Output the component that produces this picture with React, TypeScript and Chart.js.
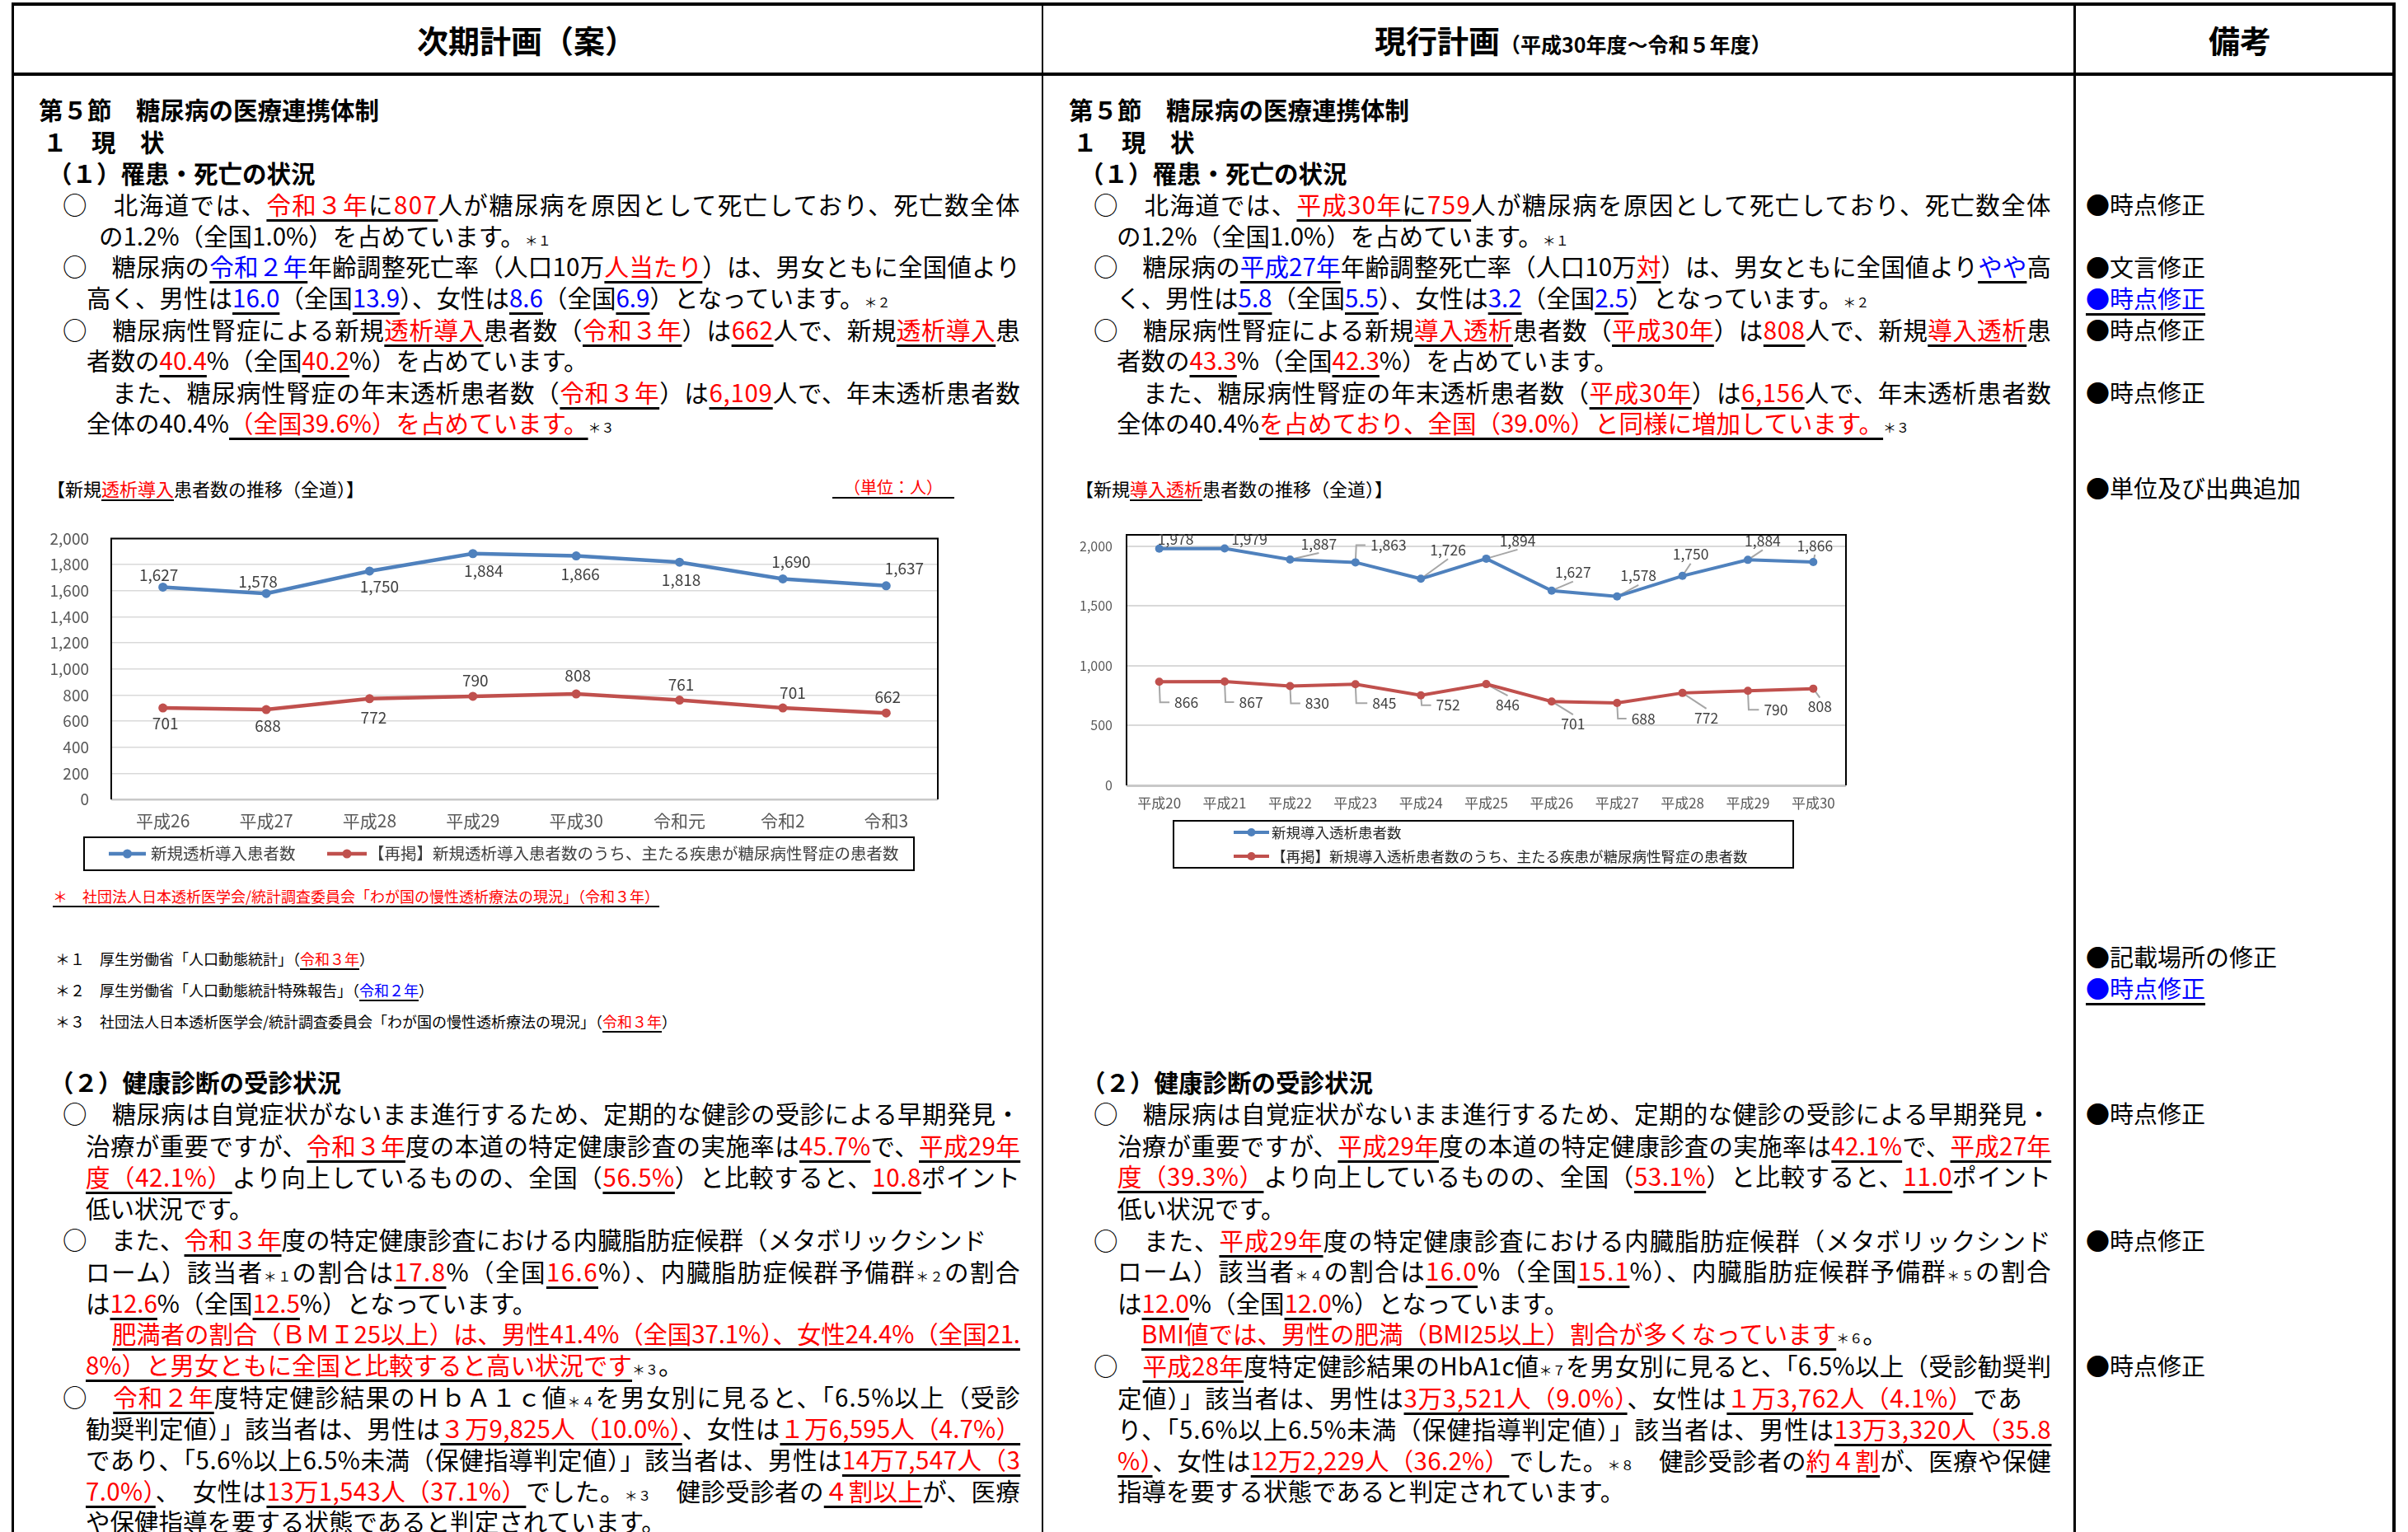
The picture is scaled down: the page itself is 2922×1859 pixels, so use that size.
import React, { useEffect, useLayoutEffect, useRef } from 'react';
import { Chart, registerables } from 'chart.js';

Chart.register(...registerables);

// ---------------- chart data ----------------
// 次期計画（案）chart
const categoriesNext = ['平成26', '平成27', '平成28', '平成29', '平成30', '令和元', '令和2', '令和3'];
const newDialysisNext = [1627, 1578, 1750, 1884, 1866, 1818, 1690, 1637];
const nephropathyNext = [701, 688, 772, 790, 808, 761, 701, 662];
const seriesNameNextA = '新規透析導入患者数';
const seriesNameNextB = '【再掲】新規透析導入患者数のうち、主たる疾患が糖尿病性腎症の患者数';
const yTicksNext = [0, 200, 400, 600, 800, 1000, 1200, 1400, 1600, 1800, 2000];

// 現行計画 chart
const categoriesCur = ['平成20', '平成21', '平成22', '平成23', '平成24', '平成25', '平成26', '平成27', '平成28', '平成29', '平成30'];
const newDialysisCur = [1978, 1979, 1887, 1863, 1726, 1894, 1627, 1578, 1750, 1884, 1866];
const nephropathyCur = [866, 867, 830, 845, 752, 846, 701, 688, 772, 790, 808];
const seriesNameCurA = '新規導入透析患者数';
const seriesNameCurB = '【再掲】新規導入透析患者数のうち、主たる疾患が糖尿病性腎症の患者数';
const yTicksCur = [0, 500, 1000, 1500, 2000];

// ---------------- label placement (style) ----------------
const labelOffsetsNext = [
  [[-5, -15], [-10, -14], [12, 19], [13, 21], [5, 22], [2, 22], [10, -21], [22, -21]],
  [[3, 19], [2, 20], [5, 23], [3, -19], [2, -22], [2, -19], [12, -18], [2, -19]],
];
const labelOffsetsCur = [
  [[20, -11], [30, -11], [35, -19], [40, -21], [33, -35], [38, -22], [26, -22], [26, -25], [10, -26], [18, -23], [2, -20]],
  [[33, 25], [32, 25], [33, 21], [35, 23], [33, 12], [26, 25], [26, 27], [32, 19], [29, 30], [34, 23], [8, 22]],
];
const leadersCur = [
  ['none', 'none', 'line', 'elbow', 'line', 'line', 'line', 'line', 'line', 'line', 'line'],
  ['elbow', 'elbow', 'elbow', 'elbow', 'elbow', 'line', 'line', 'elbow', 'line', 'elbow', 'line'],
];

const BLUE = '#4F81BD';
const REDL = '#C0504D';
const RED = '#FF0000';
const BLUET = '#0000FF';
const FONT = "'Noto Sans CJK JP', 'Noto Sans', sans-serif";

const fmt = (v: number) => Number(v).toLocaleString('en-US');

function labelPlugin(cfg: any) {
  return {
    id: 'valueLabels',
    beforeDatasetsDraw(chart: any) {
      if (!cfg.leaders) return;
      const ctx = chart.ctx;
      ctx.save();
      ctx.strokeStyle = '#A6A6A6';
      ctx.lineWidth = 2;
      ctx.font = cfg.font;
      chart.data.datasets.forEach((ds: any, di: number) => {
        const meta = chart.getDatasetMeta(di);
        meta.data.forEach((pt: any, i: number) => {
          const type = cfg.leaders[di][i];
          if (type === 'none') return;
          const [dx, dy] = cfg.offsets[di][i];
          const lx = pt.x + dx;
          const ly = pt.y + dy;
          const w = ctx.measureText(fmt(ds.data[i])).width;
          ctx.beginPath();
          if (type === 'elbow') {
            ctx.moveTo(pt.x, pt.y);
            ctx.lineTo(pt.x + 1, ly);
            ctx.lineTo(lx - w / 2 - 6, ly);
          } else {
            ctx.moveTo(pt.x, pt.y);
            ctx.lineTo(lx, ly + (dy < 0 ? 11 : -11));
          }
          ctx.stroke();
        });
      });
      ctx.restore();
    },
    afterDatasetsDraw(chart: any) {
      const ctx = chart.ctx;
      ctx.save();
      ctx.font = cfg.font;
      ctx.fillStyle = cfg.color;
      ctx.textAlign = 'center';
      ctx.textBaseline = 'middle';
      chart.data.datasets.forEach((ds: any, di: number) => {
        const meta = chart.getDatasetMeta(di);
        meta.data.forEach((pt: any, i: number) => {
          const [dx, dy] = cfg.offsets[di][i];
          ctx.fillText(fmt(ds.data[i]), pt.x + dx, pt.y + dy);
        });
      });
      ctx.restore();
    },
  };
}

function framePlugin(width: number) {
  return {
    id: 'plotFrame',
    beforeDatasetsDraw(chart: any) {
      const { left, right, top, bottom } = chart.chartArea;
      const ctx = chart.ctx;
      ctx.save();
      ctx.strokeStyle = '#000';
      ctx.lineWidth = width;
      ctx.beginPath();
      ctx.moveTo(left, bottom);
      ctx.lineTo(left, top);
      ctx.lineTo(right, top);
      ctx.lineTo(right, bottom);
      ctx.stroke();
      ctx.restore();
    },
  };
}

function boxLegendPlugin(cfg: any) {
  return {
    id: 'boxLegend',
    afterDraw(chart: any) {
      const ctx = chart.ctx;
      ctx.save();
      ctx.strokeStyle = '#000';
      ctx.lineWidth = 2;
      const [bx, by, bw, bh] = cfg.box;
      ctx.strokeRect(bx, by, bw, bh);
      chart.data.datasets.forEach((ds: any, i: number) => {
        const r = cfg.rows[i];
        ctx.strokeStyle = ds.borderColor;
        ctx.lineWidth = cfg.lw;
        ctx.beginPath();
        ctx.moveTo(r.x0, r.y);
        ctx.lineTo(r.x1, r.y);
        ctx.stroke();
        ctx.fillStyle = ds.borderColor;
        ctx.beginPath();
        ctx.arc((r.x0 + r.x1) / 2, r.y, cfg.r, 0, Math.PI * 2);
        ctx.fill();
        ctx.fillStyle = cfg.color;
        ctx.font = cfg.font;
        ctx.textAlign = 'left';
        ctx.textBaseline = 'middle';
        ctx.fillText(ds.label, r.tx, r.y);
      });
      ctx.restore();
    },
  };
}

function buildChart(canvas: HTMLCanvasElement, o: any) {
  const mkDs = (label: string, data: number[], color: string) => ({
    label,
    data,
    borderColor: color,
    backgroundColor: color,
    borderWidth: o.lineWidth,
    pointRadius: o.pointRadius,
    pointHoverRadius: o.pointRadius,
    pointBackgroundColor: color,
    pointBorderWidth: 0,
    tension: 0,
  });
  return new Chart(canvas, {
    type: 'line',
    data: {
      labels: o.labels,
      datasets: [mkDs(o.nameA, o.dataA, BLUE), mkDs(o.nameB, o.dataB, REDL)],
    },
    options: {
      animation: false,
      responsive: false,
      maintainAspectRatio: false,
      events: [],
      layout: { padding: o.padding },
      plugins: { legend: { display: false }, tooltip: { enabled: false } },
      scales: {
        x: {
          type: 'category',
          offset: true,
          grid: { display: false, drawTicks: false },
          border: { display: false },
          ticks: {
            color: '#595959',
            font: { family: FONT, size: o.xFont },
            padding: o.xPad,
            maxRotation: 0,
            autoSkip: false,
          },
          afterFit: (s: any) => {
            s.height = o.xHeight;
          },
        },
        y: {
          min: 0,
          max: o.yMax,
          afterBuildTicks: (s: any) => {
            s.ticks = o.yTicks.map((v: number) => ({ value: v }));
          },
          ticks: {
            color: '#595959',
            font: { family: FONT, size: o.yFont },
            padding: o.yPad,
            callback: (v: any) => fmt(v),
          },
          grid: {
            drawTicks: false,
            color: (c: any) => (c.tick && c.tick.value === 0 ? '#C8C8C8' : '#D9D9D9'),
            lineWidth: (c: any) => (c.tick && c.tick.value === 0 ? o.gridW + 1 : o.gridW),
          },
          border: { display: false },
          afterFit: (s: any) => {
            s.width = o.yWidth;
          },
        },
      },
    },
    plugins: [framePlugin(2), labelPlugin(o.labelCfg), boxLegendPlugin(o.legendCfg)],
  } as any);
}

// ---------------- document text ----------------
type Line = { x: number; y: number; t: string; w?: number; b?: boolean; fs?: number };

const leftTop: Line[] = [
  { x: 47, y: 132, t: '第５節　糖尿病の医療連携体制', b: true },
  { x: 52, y: 171, t: '１　現　状', b: true },
  { x: 58, y: 209, t: '（１）罹患・死亡の状況', b: true },
  { x: 76, y: 247, w: 1162, t: '○　北海道では、[r|令和３年][k|に][r|807]人が糖尿病を原因として死亡しており、死亡数全体' },
  { x: 120, y: 285, t: 'の1.2%（全国1.0%）を占めています。[s|＊１]' },
  { x: 76, y: 322, w: 1162, t: '○　糖尿病の[b|令和２年]年齢調整死亡率（人口10万[r|人当たり]）は、男女ともに全国値より' },
  { x: 105, y: 360, t: '高く、男性は[b|16.0]（全国[b|13.9]）、女性は[b|8.6]（全国[b|6.9]）となっています。[s|＊２]' },
  { x: 76, y: 399, w: 1162, t: '○　糖尿病性腎症による新規[r|透析導入]患者数（[r|令和３年]）は[r|662]人で、新規[r|透析導入]患' },
  { x: 105, y: 436, t: '者数の[r|40.4]%（全国[r|40.2]%）を占めています。' },
  { x: 136, y: 475, w: 1102, t: 'また、糖尿病性腎症の年末透析患者数（[r|令和３年]）は[r|6,109]人で、年末透析患者数' },
  { x: 105, y: 512, t: '全体の40.4%[r|（全国39.6%）を占めています。][s|＊３]' },
];

const rightTop: Line[] = [
  { x: 1297, y: 132, t: '第５節　糖尿病の医療連携体制', b: true },
  { x: 1302, y: 171, t: '１　現　状', b: true },
  { x: 1310, y: 209, t: '（１）罹患・死亡の状況', b: true },
  { x: 1327, y: 247, w: 1162, t: '○　北海道では、[r|平成30年][k|に][r|759]人が糖尿病を原因として死亡しており、死亡数全体' },
  { x: 1355, y: 285, t: 'の1.2%（全国1.0%）を占めています。[s|＊１]' },
  { x: 1327, y: 322, w: 1162, t: '○　糖尿病の[b|平成27年]年齢調整死亡率（人口10万[r|対]）は、男女ともに全国値より[b|やや]高' },
  { x: 1355, y: 360, t: 'く、男性は[b|5.8]（全国[b|5.5]）、女性は[b|3.2]（全国[b|2.5]）となっています。[s|＊２]' },
  { x: 1327, y: 399, w: 1162, t: '○　糖尿病性腎症による新規[r|導入透析]患者数（[r|平成30年]）は[r|808]人で、新規[r|導入透析]患' },
  { x: 1355, y: 436, t: '者数の[r|43.3]%（全国[r|42.3]%）を占めています。' },
  { x: 1387, y: 475, w: 1102, t: 'また、糖尿病性腎症の年末透析患者数（[r|平成30年]）は[r|6,156]人で、年末透析患者数' },
  { x: 1355, y: 512, t: '全体の40.4%[r|を占めており、全国（39.0%）と同様に増加しています。][s|＊３]' },
];

const leftBottom: Line[] = [
  { x: 60, y: 1312, t: '（２）健康診断の受診状況', b: true },
  { x: 76, y: 1350, w: 1162, t: '○　糖尿病は自覚症状がないまま進行するため、定期的な健診の受診による早期発見・' },
  { x: 104, y: 1389, w: 1134, t: '治療が重要ですが、[r|令和３年]度の本道の特定健康診査の実施率は[r|45.7%]で、[r|平成29年]' },
  { x: 104, y: 1427, w: 1134, t: '[r|度（42.1%）]より向上しているものの、全国（[r|56.5%]）と比較すると、[r|10.8]ポイント' },
  { x: 104, y: 1465, t: '低い状況です。' },
  { x: 76, y: 1503, t: '○　また、[r|令和３年]度の特定健康診査における内臓脂肪症候群（メタボリックシンド' },
  { x: 104, y: 1542, w: 1134, t: 'ローム）該当者[s|＊１]の割合は[r|17.8]%（全国[r|16.6]%）、内臓脂肪症候群予備群[s|＊２]の割合' },
  { x: 104, y: 1580, t: 'は[r|12.6]%（全国[r|12.5]%）となっています。' },
  { x: 136, y: 1617, w: 1102, t: '[r|肥満者の割合（ＢＭＩ25以上）は、男性41.4%（全国37.1%）、女性24.4%（全国21.]' },
  { x: 104, y: 1655, t: '[r|8%）と男女ともに全国と比較すると高い状況です][s|＊３]。' },
  { x: 76, y: 1694, w: 1162, t: '○　[r|令和２年]度特定健診結果のＨｂＡ１ｃ値[s|＊４]を男女別に見ると、「6.5%以上（受診' },
  { x: 104, y: 1732, w: 1134, t: '勧奨判定値）」該当者は、男性は[r|３万9,825人（10.0%）]、女性は[r|１万6,595人（4.7%）]' },
  { x: 104, y: 1770, w: 1134, t: 'であり、「5.6%以上6.5%未満（保健指導判定値）」該当者は、男性は[r|14万7,547人（3]' },
  { x: 104, y: 1808, w: 1134, t: '[r|7.0%）]、　女性は[r|13万1,543人（37.1%）]でした。[s|＊３]　健診受診者の[r|４割以上]が、医療' },
  { x: 104, y: 1845, t: 'や保健指導を要する状態であると判定されています。' },
];

const rightBottom: Line[] = [
  { x: 1312, y: 1312, t: '（２）健康診断の受診状況', b: true },
  { x: 1327, y: 1350, w: 1162, t: '○　糖尿病は自覚症状がないまま進行するため、定期的な健診の受診による早期発見・' },
  { x: 1356, y: 1389, w: 1133, t: '治療が重要ですが、[r|平成29年]度の本道の特定健康診査の実施率は[r|42.1%]で、[r|平成27年]' },
  { x: 1356, y: 1426, w: 1133, t: '[r|度（39.3%）]より向上しているものの、全国（[r|53.1%]）と比較すると、[r|11.0]ポイント' },
  { x: 1356, y: 1465, t: '低い状況です。' },
  { x: 1327, y: 1504, w: 1162, t: '○　また、[r|平成29年]度の特定健康診査における内臓脂肪症候群（メタボリックシンド' },
  { x: 1356, y: 1541, w: 1133, t: 'ローム）該当者[s|＊４]の割合は[r|16.0]%（全国[r|15.1]%）、内臓脂肪症候群予備群[s|＊５]の割合' },
  { x: 1356, y: 1580, t: 'は[r|12.0]%（全国[r|12.0]%）となっています。' },
  { x: 1385, y: 1617, t: '[r|BMI値では、男性の肥満（BMI25以上）割合が多くなっています][s|＊６]。' },
  { x: 1327, y: 1656, w: 1162, t: '○　[r|平成28年]度特定健診結果のHbA1c値[s|＊７]を男女別に見ると、「6.5%以上（受診勧奨判' },
  { x: 1356, y: 1695, w: 1098, t: '定値）」該当者は、男性は[r|3万3,521人（9.0%）]、女性は[r|１万3,762人（4.1%）]であ' },
  { x: 1356, y: 1733, w: 1133, t: 'り、「5.6%以上6.5%未満（保健指導判定値）」該当者は、男性は[r|13万3,320人（35.8]' },
  { x: 1356, y: 1771, w: 1133, t: '[r|%）]、女性は[r|12万2,229人（36.2%）]でした。[s|＊８]　健診受診者の[r|約４割]が、医療や保健' },
  { x: 1356, y: 1808, t: '指導を要する状態であると判定されています。' },
];

const chartTexts: Line[] = [
  { x: 57, y: 592, fs: 22, t: '【新規[r|透析導入]患者数の推移（全道）】' },
  { x: 64, y: 1087, fs: 18, t: '[r|＊　社団法人日本透析医学会/統計調査委員会「わが国の慢性透析療法の現況」（令和３年）]' },
  { x: 67, y: 1163, fs: 18, t: '＊１　厚生労働省「人口動態統計」（[r|令和３年]）' },
  { x: 67, y: 1201, fs: 18, t: '＊２　厚生労働省「人口動態統計特殊報告」（[b|令和２年]）' },
  { x: 67, y: 1239, fs: 18, t: '＊３　社団法人日本透析医学会/統計調査委員会「わが国の慢性透析療法の現況」（[r|令和３年]）' },
  { x: 1305, y: 592, fs: 22, t: '【新規[r|導入透析]患者数の推移（全道）】' },
];

const remarks = [
  { y: 247, t: '●時点修正', blue: false },
  { y: 323, t: '●文言修正', blue: false },
  { y: 361, t: '●時点修正', blue: true },
  { y: 399, t: '●時点修正', blue: false },
  { y: 475, t: '●時点修正', blue: false },
  { y: 591, t: '●単位及び出典追加', blue: false },
  { y: 1160, t: '●記載場所の修正', blue: false },
  { y: 1198, t: '●時点修正', blue: true },
  { y: 1350, t: '●時点修正', blue: false },
  { y: 1504, t: '●時点修正', blue: false },
  { y: 1656, t: '●時点修正', blue: false },
];

const MARK_RE = /\[([rbks])\|([^\]]*)\]/g;
const plainLen = (t: string) => Array.from(t.replace(MARK_RE, '$2')).length;

function Rich({ t, fs }: { t: string; fs: number }) {
  const out: React.ReactNode[] = [];
  const re = new RegExp(MARK_RE.source, 'g');
  let last = 0;
  let k = 0;
  let m: RegExpExecArray | null;
  const ul: React.CSSProperties = {
    textDecorationLine: 'underline',
    textDecorationColor: '#000',
    textDecorationThickness: fs >= 25 ? '3px' : '2px',
    textUnderlineOffset: fs >= 25 ? '6px' : '4px',
    textDecorationSkipInk: 'none',
  } as any;
  while ((m = re.exec(t))) {
    if (m.index > last) out.push(<span key={k++}>{t.slice(last, m.index)}</span>);
    const kind = m[1];
    const txt = m[2];
    if (kind === 's') out.push(<span key={k++} style={{ fontSize: Math.round(fs * 0.55) }}>{txt}</span>);
    else
      out.push(
        <span key={k++} style={{ ...ul, color: kind === 'r' ? RED : kind === 'b' ? BLUET : '#000' }}>
          {txt}
        </span>
      );
    last = re.lastIndex;
  }
  if (last < t.length) out.push(<span key={k++}>{t.slice(last)}</span>);
  return <>{out}</>;
}

function TextLine({ l }: { l: Line }) {
  const ref = useRef<HTMLDivElement | null>(null);
  const innerRef = useRef<HTMLSpanElement | null>(null);
  const fs = l.fs || 29.5;
  const lh = Math.round(fs * 1.2);

  useLayoutEffect(() => {
    if (!l.w || !ref.current || !innerRef.current) return;
    ref.current.style.letterSpacing = '0px';
    const nat = innerRef.current.getBoundingClientRect().width;
    const n = plainLen(l.t);
    if (n > 1) {
      const ls = (l.w - nat) / (n - 0.6);
      ref.current.style.letterSpacing = ls.toFixed(3) + 'px';
    }
  }, [l]);

  const style: React.CSSProperties = {
    position: 'absolute',
    left: l.x,
    top: l.y - lh / 2,
    height: lh,
    lineHeight: lh + 'px',
    fontSize: fs,
    fontWeight: l.b ? 700 : 400,
    color: '#000',
    whiteSpace: 'nowrap',
  };
  return (
    <div ref={ref} style={style}>
      <span ref={innerRef}>
        <Rich t={l.t} fs={fs} />
      </span>
    </div>
  );
}

export default function App() {
  const nextRef = useRef<HTMLCanvasElement | null>(null);
  const curRef = useRef<HTMLCanvasElement | null>(null);

  useEffect(() => {
    const c1 = buildChart(nextRef.current as HTMLCanvasElement, {
      labels: categoriesNext,
      nameA: seriesNameNextA,
      nameB: seriesNameNextB,
      dataA: newDialysisNext,
      dataB: nephropathyNext,
      lineWidth: 4.5,
      pointRadius: 5.5,
      padding: { left: 0, top: 18, right: 32, bottom: 0 },
      xFont: 21,
      xPad: 13,
      xHeight: 95,
      yMax: 2000,
      yTicks: yTicksNext,
      yFont: 19,
      yPad: 27,
      yWidth: 95,
      gridW: 1.5,
      labelCfg: { font: `19px ${FONT}`, color: '#404040', offsets: labelOffsetsNext },
      legendCfg: {
        box: [62, 401, 1007, 40],
        rows: [
          { x0: 92, x1: 137, y: 421, tx: 143 },
          { x0: 357, x1: 405, y: 421, tx: 407 },
        ],
        font: `19.5px ${FONT}`,
        color: '#404040',
        lw: 4.5,
        r: 5.5,
      },
    });
    const c2 = buildChart(curRef.current as HTMLCanvasElement, {
      labels: categoriesCur,
      nameA: seriesNameCurA,
      nameB: seriesNameCurB,
      dataA: newDialysisCur,
      dataB: nephropathyCur,
      lineWidth: 4,
      pointRadius: 5,
      padding: { left: 0, top: 29, right: 20, bottom: 0 },
      xFont: 17,
      xPad: 11,
      xHeight: 107,
      yMax: 2093,
      yTicks: yTicksCur,
      yFont: 16,
      yPad: 17,
      yWidth: 77,
      gridW: 2,
      labelCfg: { font: `17.5px ${FONT}`, color: '#404040', offsets: labelOffsetsCur, leaders: leadersCur },
      legendCfg: {
        box: [134, 376, 752, 57],
        rows: [
          { x0: 207, x1: 250, y: 390, tx: 253 },
          { x0: 207, x1: 250, y: 419, tx: 253 },
        ],
        font: `17.5px ${FONT}`,
        color: '#262626',
        lw: 4,
        r: 5,
      },
    });
    return () => {
      c1.destroy();
      c2.destroy();
    };
  }, []);

  const line = (l: number, t: number, w: number, h: number) => (
    <div style={{ position: 'absolute', left: l, top: t, width: w, height: h, background: '#000' }} />
  );

  return (
    <div
      style={{
        position: 'absolute',
        left: 0,
        top: 0,
        width: 2922,
        height: 1859,
        overflow: 'hidden',
        background: '#fff',
        fontFamily: FONT,
        color: '#000',
      }}
    >
      {/* frame */}
      {line(14, 3, 2893, 4)}
      {line(14, 88, 2893, 4)}
      {line(14, 3, 3, 1856)}
      {line(2903, 3, 4, 1856)}
      {line(1264, 3, 2, 1856)}
      {line(2516, 3, 3, 1856)}

      {/* headers */}
      <div style={{ position: 'absolute', left: 506, top: 24, height: 48, lineHeight: '48px', fontSize: 38, fontWeight: 700, whiteSpace: 'nowrap' }}>
        次期計画（案）
      </div>
      <div style={{ position: 'absolute', left: 1668, top: 24, height: 48, lineHeight: '48px', fontSize: 38, fontWeight: 700, whiteSpace: 'nowrap' }}>
        現行計画<span style={{ fontSize: 25 }}>（平成30年度～令和５年度）</span>
      </div>
      <div style={{ position: 'absolute', left: 2680, top: 24, height: 48, lineHeight: '48px', fontSize: 38, fontWeight: 700, whiteSpace: 'nowrap' }}>
        備考
      </div>

      {[...leftTop, ...rightTop, ...leftBottom, ...rightBottom, ...chartTexts].map((l, i) => (
        <TextLine key={i} l={l} />
      ))}

      {/* unit label */}
      <div
        style={{
          position: 'absolute',
          left: 1010,
          top: 579,
          height: 24,
          lineHeight: '24px',
          fontSize: 20,
          color: RED,
          padding: '0 14px',
          borderBottom: '2px solid #000',
          whiteSpace: 'nowrap',
        }}
      >
        （単位：人）
      </div>

      {/* remarks */}
      {remarks.map((r, i) => (
        <div
          key={'r' + i}
          style={{
            position: 'absolute',
            left: 2531,
            top: r.y - 17,
            height: 34,
            lineHeight: '34px',
            fontSize: 29,
            whiteSpace: 'nowrap',
            color: r.blue ? BLUET : '#000',
            textDecorationLine: r.blue ? 'underline' : 'none',
            textDecorationColor: '#000',
            textDecorationThickness: '3px',
            textUnderlineOffset: '6px',
          }}
        >
          {r.t}
        </div>
      ))}

      {/* charts */}
      <div style={{ position: 'absolute', left: 40, top: 615, width: 1130, height: 450 }}>
        <canvas ref={nextRef} width={1130} height={450} style={{ display: 'block', width: 1130, height: 450 }} />
      </div>
      <div style={{ position: 'absolute', left: 1290, top: 620, width: 970, height: 440 }}>
        <canvas ref={curRef} width={970} height={440} style={{ display: 'block', width: 970, height: 440 }} />
      </div>
    </div>
  );
}
